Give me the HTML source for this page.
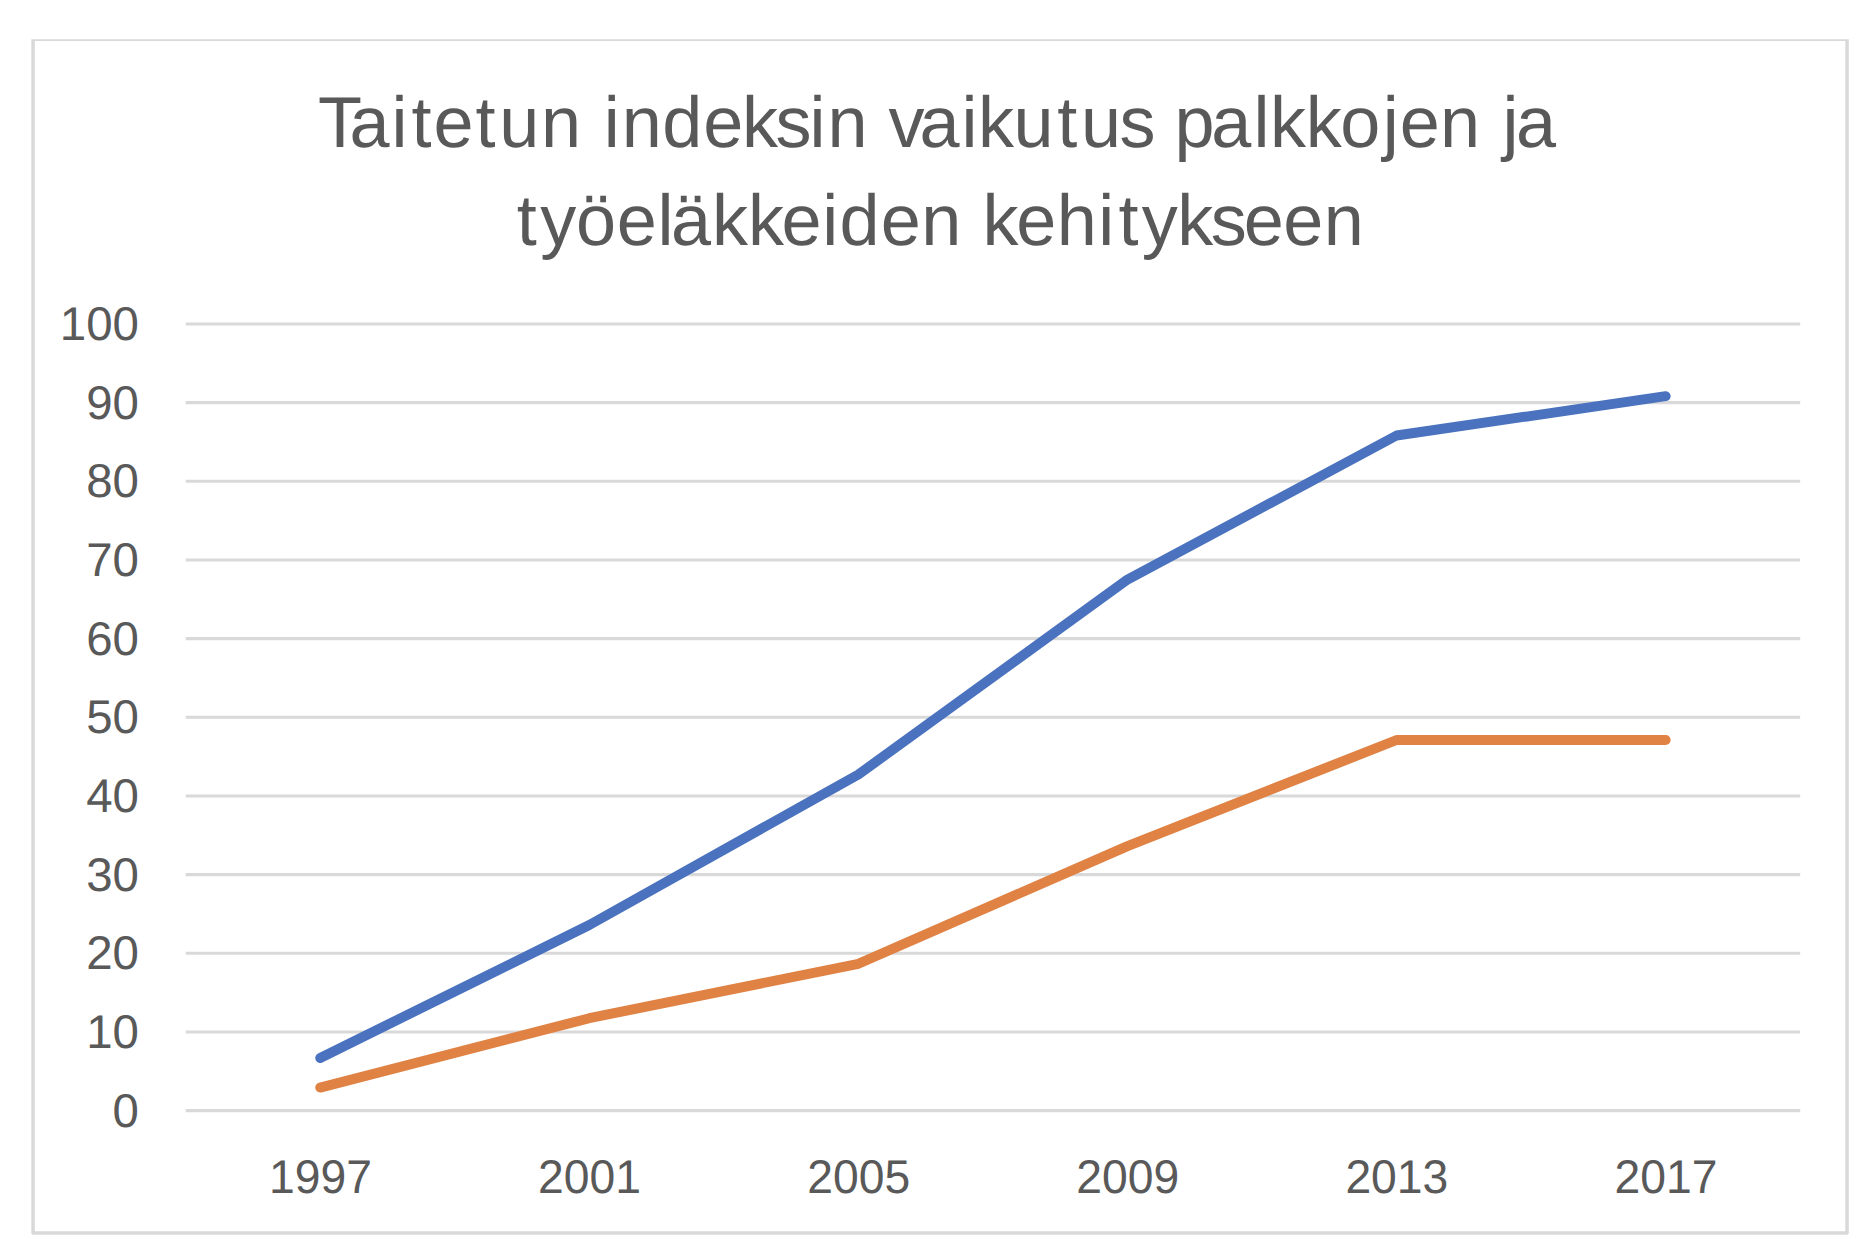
<!DOCTYPE html>
<html lang="fi">
<head>
<meta charset="utf-8">
<title>Taitetun indeksin vaikutus palkkojen ja työeläkkeiden kehitykseen</title>
<style>
html,body{margin:0;padding:0;background:#fff;}
body{width:1872px;height:1244px;overflow:hidden;}
svg{display:block;}
text{font-family:"Liberation Sans",sans-serif;fill:#595959;text-rendering:geometricPrecision;}
</style>
</head>
<body>
<svg width="1872" height="1244" viewBox="0 0 1872 1244">
<rect x="0" y="0" width="1872" height="1244" fill="#ffffff"/>

<clipPath id="frameclip"><rect x="0" y="39.15" width="1872" height="1205"/></clipPath>
<rect x="33.05" y="39.2" width="1814" height="1193.8" fill="none" stroke="#d9d9d9" stroke-width="3.5" stroke-linejoin="round" clip-path="url(#frameclip)"/>
<g stroke="#d9d9d9" stroke-width="3.1" fill="none">
<line x1="185.7" y1="1110.60" x2="1800.2" y2="1110.60"/>
<line x1="185.7" y1="1031.94" x2="1800.2" y2="1031.94"/>
<line x1="185.7" y1="953.28" x2="1800.2" y2="953.28"/>
<line x1="185.7" y1="874.62" x2="1800.2" y2="874.62"/>
<line x1="185.7" y1="795.96" x2="1800.2" y2="795.96"/>
<line x1="185.7" y1="717.30" x2="1800.2" y2="717.30"/>
<line x1="185.7" y1="638.64" x2="1800.2" y2="638.64"/>
<line x1="185.7" y1="559.98" x2="1800.2" y2="559.98"/>
<line x1="185.7" y1="481.32" x2="1800.2" y2="481.32"/>
<line x1="185.7" y1="402.66" x2="1800.2" y2="402.66"/>
<line x1="185.7" y1="324.00" x2="1800.2" y2="324.00"/>
</g>
<polyline points="320.2,1058.0 589.3,925.0 858.4,774.5 1127.5,579.6 1396.6,435.5 1665.7,396.2" fill="none" stroke="#4a72be" stroke-width="9.9" stroke-linecap="round" stroke-linejoin="round"/>
<polyline points="320.2,1087.6 589.3,1018.2 858.4,963.8 1127.5,846.1 1396.6,740.0 1665.7,740.0" fill="none" stroke="#df8244" stroke-width="9.9" stroke-linecap="round" stroke-linejoin="round"/>
<text x="318.03 349.42 391.54 411.41 433.62 475.47 499.28 540.99" y="147.0" font-size="72.0">Taitetun</text>
<text x="603.76 621.71 662.29 703.16 742.06 775.43 809.49 827.44" y="147.0" font-size="72.0">indeksin</text>
<text x="888.48 919.45 961.54 977.9 1013.57 1057.22 1081.02 1119.53" y="147.0" font-size="72.0">vaikutus</text>
<text x="1174.53 1211.28 1253.55 1270.01 1305.84 1340.35 1382.64 1399.68 1440.12" y="147.0" font-size="72.0">palkkojen</text>
<text x="1502.44 1516.12" y="147.0" font-size="72.0">ja</text>
<text x="516.82 540.21 576.11 616.74 657.43 671.1 711.91 747.88 781.55 822.21 839.55 880.65 921.26" y="245.0" font-size="72.0">työeläkkeiden</text>
<text x="982.45 1016.13 1056.7 1098.37 1118.41 1141.83 1177.31 1210.85 1243.76 1283.13 1323.76" y="245.0" font-size="72.0">kehitykseen</text>
<text x="112.63" y="1126.7" font-size="47.3" textLength="26.37" lengthAdjust="spacingAndGlyphs">0</text>
<text x="86.25" y="1048.04" font-size="47.3" textLength="52.75" lengthAdjust="spacingAndGlyphs">10</text>
<text x="86.25" y="969.38" font-size="47.3" textLength="52.75" lengthAdjust="spacingAndGlyphs">20</text>
<text x="86.25" y="890.72" font-size="47.3" textLength="52.75" lengthAdjust="spacingAndGlyphs">30</text>
<text x="86.25" y="812.06" font-size="47.3" textLength="52.75" lengthAdjust="spacingAndGlyphs">40</text>
<text x="86.25" y="733.4" font-size="47.3" textLength="52.75" lengthAdjust="spacingAndGlyphs">50</text>
<text x="86.25" y="654.74" font-size="47.3" textLength="52.75" lengthAdjust="spacingAndGlyphs">60</text>
<text x="86.25" y="576.08" font-size="47.3" textLength="52.75" lengthAdjust="spacingAndGlyphs">70</text>
<text x="86.25" y="497.42" font-size="47.3" textLength="52.75" lengthAdjust="spacingAndGlyphs">80</text>
<text x="86.25" y="418.76" font-size="47.3" textLength="52.75" lengthAdjust="spacingAndGlyphs">90</text>
<text x="59.88" y="340.1" font-size="47.3" textLength="79.12" lengthAdjust="spacingAndGlyphs">100</text>
<text x="269.04" y="1193.3" font-size="47.3" textLength="103.0" lengthAdjust="spacingAndGlyphs">1997</text>
<text x="538.12" y="1193.3" font-size="47.3" textLength="103.0" lengthAdjust="spacingAndGlyphs">2001</text>
<text x="807.21" y="1193.3" font-size="47.3" textLength="103.0" lengthAdjust="spacingAndGlyphs">2005</text>
<text x="1076.29" y="1193.3" font-size="47.3" textLength="103.0" lengthAdjust="spacingAndGlyphs">2009</text>
<text x="1345.38" y="1193.3" font-size="47.3" textLength="103.0" lengthAdjust="spacingAndGlyphs">2013</text>
<text x="1614.46" y="1193.3" font-size="47.3" textLength="103.0" lengthAdjust="spacingAndGlyphs">2017</text>
</svg>
</body>
</html>
